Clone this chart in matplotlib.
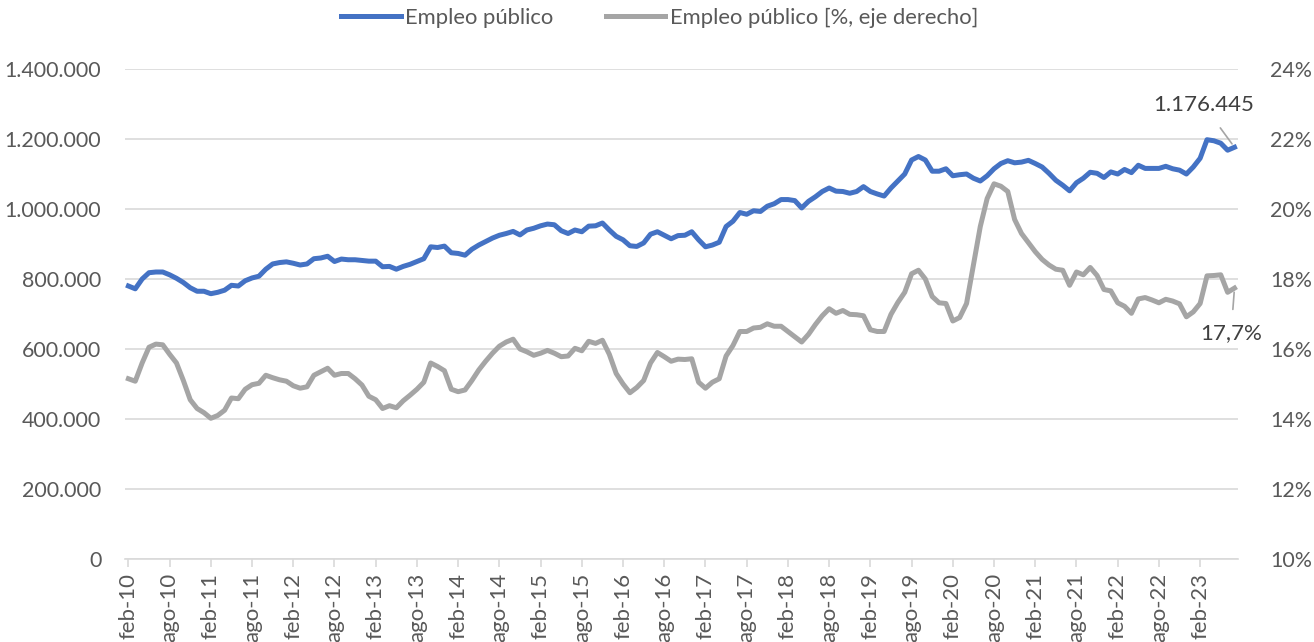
import matplotlib.pyplot as plt
import matplotlib.ticker as mticker
import numpy as np

# monthly data, feb-10 .. jul-23
empleo = [780, 772, 800, 818, 820, 820, 812, 802, 790, 775,
          765, 765, 758, 762, 768, 782, 780, 795, 803, 808,
          828, 843, 847, 849, 845, 840, 843, 858, 860, 865,
          850, 857, 855, 855, 853, 851, 851, 835, 836, 828,
          836, 842, 850, 858, 892, 890, 894, 875, 873, 868,
          885, 897, 907, 917, 925, 930, 936, 926, 940, 945,
          952, 957, 955, 938, 930, 940, 935, 951, 952, 960,
          940, 922, 912, 895, 893, 903, 928, 935, 925, 915,
          924, 925, 935, 912, 892, 897, 905, 950, 965, 990,
          985, 995, 993, 1008, 1015, 1027, 1027, 1024, 1003, 1022,
          1035, 1050, 1060, 1051, 1050, 1045, 1050, 1064, 1050, 1043,
          1037, 1060, 1080, 1100, 1140, 1150, 1140, 1108, 1108, 1115,
          1095, 1098, 1100, 1088, 1080, 1095, 1115, 1130, 1138, 1132,
          1134, 1139, 1130, 1120, 1102, 1082, 1068, 1052, 1075, 1088,
          1105, 1102, 1090, 1106, 1100, 1113, 1104, 1125, 1116, 1116,
          1116, 1122, 1115, 1111, 1100, 1120, 1145, 1198, 1195, 1188,
          1168, 1176.445]
empleo = np.array(empleo) * 1000

pct = [15.15, 15.08, 15.6, 16.05, 16.14, 16.12, 15.85, 15.6, 15.1, 14.55,
       14.3, 14.18, 14.02, 14.1, 14.25, 14.6, 14.58, 14.85, 14.98, 15.02,
       15.25, 15.18, 15.12, 15.08, 14.95, 14.88, 14.92, 15.25, 15.35, 15.45,
       15.25, 15.3, 15.3, 15.15, 14.97, 14.65, 14.55, 14.3, 14.38, 14.32,
       14.52, 14.68, 14.85, 15.05, 15.6, 15.5, 15.38, 14.85, 14.78, 14.83,
       15.1, 15.4, 15.65, 15.88, 16.08, 16.2, 16.28, 16.0, 15.92, 15.82,
       15.88, 15.96, 15.88, 15.78, 15.8, 16.02, 15.95, 16.22, 16.16, 16.25,
       15.85, 15.3, 15.0, 14.75, 14.9, 15.1, 15.6, 15.9, 15.78, 15.65,
       15.71, 15.7, 15.72, 15.05, 14.88, 15.05, 15.15, 15.8, 16.1, 16.5,
       16.5, 16.6, 16.62, 16.72, 16.65, 16.65, 16.5, 16.35, 16.2, 16.42,
       16.7, 16.95, 17.15, 17.02, 17.1, 16.99, 16.98, 16.95, 16.55, 16.5,
       16.5, 16.99, 17.33, 17.62, 18.15, 18.25, 18.0, 17.5, 17.32, 17.3,
       16.8, 16.9, 17.3, 18.4, 19.5, 20.3, 20.72, 20.65, 20.5, 19.7,
       19.3, 19.04, 18.78, 18.56, 18.4, 18.28, 18.25, 17.82, 18.2, 18.12,
       18.33, 18.1, 17.7, 17.66, 17.32, 17.22, 17.02, 17.43, 17.47, 17.4,
       17.32, 17.42, 17.37, 17.29, 16.92, 17.06, 17.3, 18.09, 18.1, 18.12,
       17.62, 17.74]

tick_labels = [f'{m}-{y:02d}' for y in range(10, 24) for m in ('feb', 'ago')][:-1]

BLUE = '#4472C4'
GREY = '#A5A5A5'
TXT = '#595959'

plt.rcParams['font.family'] = ['Lato', 'DejaVu Sans']

x = np.arange(len(empleo))

fig = plt.figure(figsize=(13.14, 6.42), dpi=100)
ax = fig.add_axes([0.0951, 0.1293, 0.8470, 0.7632])
ax2 = ax.twinx()

l1, = ax.plot(x, empleo, color=BLUE, lw=3.6, solid_joinstyle='round', zorder=3)
l2, = ax2.plot(x, pct, color=GREY, lw=3.6, solid_joinstyle='round', zorder=3)

ax.set_ylim(0, 1400000)
ax.set_yticks(np.arange(0, 1400001, 200000))
ax.yaxis.set_major_formatter(mticker.FuncFormatter(lambda v, p: f'{v:,.0f}'.replace(',', '.')))
ax2.set_ylim(10, 24)
ax2.set_yticks(np.arange(10, 25, 2))
ax2.yaxis.set_major_formatter(mticker.FuncFormatter(lambda v, p: f'{v:.0f}%'))

ax.set_xlim(-0.5, 161.5)
ax.set_xticks(np.arange(0, 157, 6))
ax.set_xticklabels(tick_labels, rotation=90)

ax.grid(axis='y', color='#d9d9d9', lw=1.2)
ax.set_axisbelow(True)
for a in (ax, ax2):
    for s in ('top', 'left', 'right'):
        a.spines[s].set_visible(False)
ax.spines['bottom'].set_color('#d9d9d9')
ax.spines['bottom'].set_linewidth(1.2)
ax2.spines['bottom'].set_visible(False)

ax.tick_params(axis='y', length=0, labelsize=15.4, labelcolor=TXT, pad=17)
ax2.tick_params(axis='y', length=0, labelsize=15.4, labelcolor=TXT, pad=23)
ax.tick_params(axis='x', length=6, color='#d9d9d9', width=1.2, labelsize=16, labelcolor=TXT, pad=4)

# labels for the last values
ax.annotate('1.176.445', xy=(161, 1176445), xytext=(156.5, 1297000),
            ha='center', va='center', fontsize=16, color='#404040',
            arrowprops=dict(arrowstyle='-', color=GREY, lw=1.2, shrinkA=9, shrinkB=3))
ax2.annotate('17,7%', xy=(161, 17.74), xytext=(160.5, 16.45),
             ha='center', va='center', fontsize=16, color='#404040',
             arrowprops=dict(arrowstyle='-', color=GREY, lw=1.2, shrinkA=8, shrinkB=3))

fig.legend([l1, l2], ['Empleo público', 'Empleo público [%, eje derecho]'],
           loc='center', bbox_to_anchor=(0.502, 0.972), ncol=2, frameon=False,
           fontsize=15.8, labelcolor=TXT, handlelength=2.7, handletextpad=0.2,
           columnspacing=2.4)

fig.savefig('out.png', dpi=100)
